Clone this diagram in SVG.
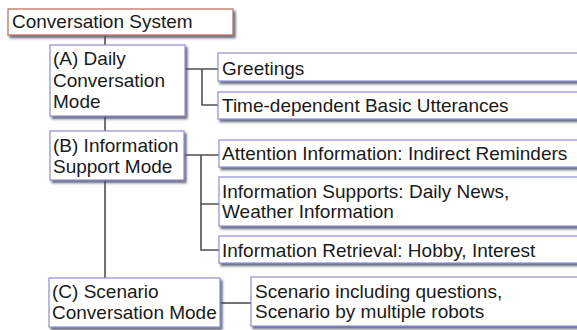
<svg xmlns="http://www.w3.org/2000/svg" width="577" height="330" viewBox="0 0 577 330">
  <defs>
    <filter id="shadow" x="-5%" y="-10%" width="115%" height="130%">
      <feDropShadow dx="2" dy="2.5" stdDeviation="0.9" flood-color="#4a4f68" flood-opacity="0.85"/>
    </filter>
  </defs>
  <style>
    .box { fill: #ffffff; stroke: #8e8ed2; stroke-width: 1.2; filter: url(#shadow); }
    .root { fill: #ffffff; stroke: #c27462; stroke-width: 1.3; filter: url(#shadow); }
    .lbl { font-family: "Liberation Sans", Arial, Helvetica, sans-serif; font-size: 19px; fill: #1a1a1a; }
    .wire { fill: none; stroke: #505050; stroke-width: 1.6; }
  </style>
  <rect width="577" height="330" fill="#ffffff"/>

  <!-- connectors -->
  <g id="connectors">
    <path class="wire" d="M105 35 V278"/>
    <path class="wire" d="M185 69 H218 M202 69 V105 H218"/>
    <path class="wire" d="M184 155 H219 M201 155 V250 H219 M201 204 H219"/>
    <path class="wire" d="M220 303 H251"/>
  </g>

  <!-- root -->
  <g id="conversation-system">
    <rect class="root" x="8" y="9" width="225" height="26"/>
    <text class="lbl" x="12" y="28">Conversation System</text>
  </g>

  <!-- modes -->
  <g id="mode-a">
    <rect class="box" x="50" y="45" width="135" height="71"/>
    <text class="lbl" x="53" y="65">(A) Daily</text>
    <text class="lbl" x="53" y="87">Conversation</text>
    <text class="lbl" x="53" y="108">Mode</text>
  </g>
  <g id="mode-b">
    <rect class="box" x="50" y="131" width="134" height="49"/>
    <text class="lbl" x="53" y="152">(B) Information</text>
    <text class="lbl" x="53" y="173">Support Mode</text>
  </g>
  <g id="mode-c">
    <rect class="box" x="49" y="278" width="171" height="49"/>
    <text class="lbl" x="52" y="298">(C) Scenario</text>
    <text class="lbl" x="52" y="319">Conversation Mode</text>
  </g>

  <!-- functions -->
  <g id="greetings">
    <rect class="box" x="218" y="53" width="370" height="28"/>
    <text class="lbl" x="222" y="75">Greetings</text>
  </g>
  <g id="basic-utterances">
    <rect class="box" x="218" y="92" width="370" height="27"/>
    <text class="lbl" x="222" y="112">Time-dependent Basic Utterances</text>
  </g>
  <g id="attention-information">
    <rect class="box" x="219" y="140" width="370" height="27"/>
    <text class="lbl" x="222" y="160">Attention Information: Indirect Reminders</text>
  </g>
  <g id="information-supports">
    <rect class="box" x="219" y="177" width="370" height="49"/>
    <text class="lbl" x="222" y="198">Information Supports: Daily News,</text>
    <text class="lbl" x="222" y="218">Weather Information</text>
  </g>
  <g id="information-retrieval">
    <rect class="box" x="219" y="236" width="370" height="27"/>
    <text class="lbl" x="222" y="257">Information Retrieval: Hobby, Interest</text>
  </g>
  <g id="scenario">
    <rect class="box" x="251" y="277" width="340" height="49"/>
    <text class="lbl" x="255" y="298">Scenario including questions,</text>
    <text class="lbl" x="255" y="318">Scenario by multiple robots</text>
  </g>
</svg>
